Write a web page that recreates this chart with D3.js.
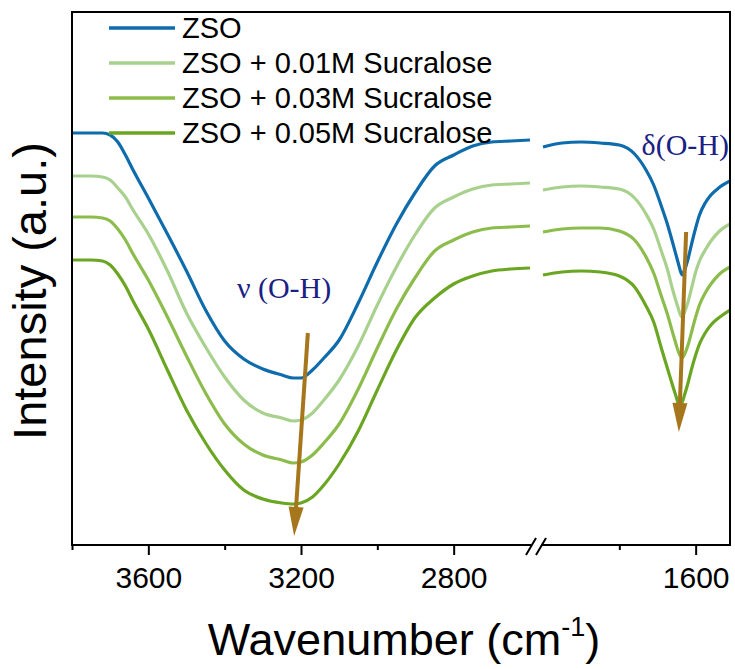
<!DOCTYPE html>
<html>
<head>
<meta charset="utf-8">
<script src="https://cdn.jsdelivr.net/npm/d3@7"></script>
<style>
  body { margin: 0; background: #fff; }
  svg { display: block; }
</style>
</head>
<body>
<div id="chart"></div>
<script>
// wavenumbers (cm-1) on both sides of the axis break
var wnLeft = [3800, 3750, 3720, 3700, 3680, 3660, 3640, 3600, 3550, 3500, 3450, 3400, 3350, 3300, 3250,
              3220, 3200, 3170, 3140, 3100, 3050, 3000, 2950, 2900, 2850, 2800, 2750, 2700, 2650, 2600];
var wnRight = [2000, 1950, 1900, 1850, 1800, 1760, 1730, 1710, 1690, 1675, 1660, 1650, 1645, 1640, 1635,
               1630, 1620, 1610, 1600, 1590, 1575, 1560, 1540, 1510];

// intensity (a.u.)
var zsoLeft = [41.2, 41.2, 41.2, 41.0, 40.3, 39.0, 37.5, 34.7, 31.1, 27.4, 23.5, 20.4, 18.6, 17.6, 17.0,
               16.7, 16.7, 17.5, 18.7, 20.5, 24.2, 28.3, 32.1, 35.3, 37.9, 39.0, 39.9, 40.3, 40.4, 40.5];
var s01Left = [36.9, 36.9, 36.8, 36.5, 35.7, 34.8, 33.5, 31.1, 27.4, 23.2, 19.8, 16.8, 14.5, 13.2, 12.7,
               12.4, 12.5, 13.2, 14.5, 16.5, 19.9, 24.0, 27.8, 31.1, 33.7, 34.8, 35.6, 36.0, 36.1, 36.2];
var s03Left = [32.8, 32.8, 32.7, 32.4, 31.6, 30.5, 29.1, 26.5, 22.8, 18.9, 15.2, 12.1, 10.1, 9.0, 8.5,
               8.2, 8.3, 9.0, 10.2, 12.1, 15.6, 19.7, 23.6, 26.8, 29.4, 30.5, 31.3, 31.7, 31.8, 31.9];
var s05Left = [28.5, 28.5, 28.4, 28.0, 27.1, 25.9, 24.4, 21.6, 17.5, 13.5, 10.2, 7.5, 5.5, 4.6, 4.2,
               4.1, 4.2, 4.8, 6.0, 8.1, 11.4, 15.5, 19.5, 22.8, 24.7, 26.1, 26.9, 27.4, 27.6, 27.7];

var zsoRight = [39.8, 40.2, 40.3, 40.2, 40.0, 39.1, 37.5, 36.0, 33.9, 32.2, 30.2, 28.8, 28.1, 27.4, 27.0,
                27.4, 28.6, 30.2, 31.7, 33.0, 34.2, 35.0, 35.7, 36.4];
var s01Right = [35.5, 35.8, 35.9, 35.8, 35.6, 34.7, 33.1, 31.6, 29.4, 27.7, 25.5, 24.2, 23.6, 23.0, 22.8,
                23.2, 24.3, 25.8, 27.3, 28.4, 29.5, 30.4, 31.3, 32.1];
var s03Right = [31.3, 31.6, 31.7, 31.7, 31.4, 30.5, 28.8, 27.2, 24.9, 23.2, 21.2, 19.9, 19.3, 18.9, 18.7,
                19.0, 20.0, 21.4, 22.8, 24.0, 25.2, 26.1, 27.0, 27.8];
var s05Right = [27.0, 27.3, 27.4, 27.3, 26.9, 25.8, 23.9, 22.3, 19.7, 17.8, 15.9, 14.7, 14.1, 14.2, 14.3,
                14.9, 16.2, 17.7, 19.0, 20.1, 21.2, 22.0, 22.7, 23.5];

var seriesNames = ["ZSO", "ZSO + 0.01M Sucralose", "ZSO + 0.03M Sucralose", "ZSO + 0.05M Sucralose"];
var seriesColors = ["#0f6cac", "#a9d18e", "#8cbd4c", "#6aa622"];

var leftMajor = [3600, 3200, 2800];
var leftMinor = [3800, 3400, 3000];
var rightMajor = [1600];
var rightMinor = [1800];

var width = 735, height = 669;
var plotLeft = 72, plotRight = 730, plotTop = 12, plotBottom = 545;
var sans = "'Liberation Sans', Arial, sans-serif";
var serif = "'Liberation Serif', 'Times New Roman', serif";

var svg = d3.select("#chart").append("svg")
    .attr("width", width)
    .attr("height", height);

var xLeft = d3.scaleLinear().domain([3800, 2600]).range([plotLeft, 530]);
var xRight = d3.scaleLinear().domain([2000, 1510]).range([543, plotRight]);
var y = d3.scaleLinear().domain([0, 53.3]).range([plotBottom, plotTop]);

var series = [
  { name: seriesNames[0], color: seriesColors[0], left: zsoLeft, right: zsoRight },
  { name: seriesNames[1], color: seriesColors[1], left: s01Left, right: s01Right },
  { name: seriesNames[2], color: seriesColors[2], left: s03Left, right: s03Right },
  { name: seriesNames[3], color: seriesColors[3], left: s05Left, right: s05Right }
];

svg.append("clipPath").attr("id", "plotclip")
  .append("rect")
    .attr("x", plotLeft).attr("y", plotTop)
    .attr("width", plotRight - plotLeft).attr("height", plotBottom - plotTop);

function makeLine(xs) {
  return d3.line()
    .x(function(d) { return xs(d[0]); })
    .y(function(d) { return y(d[1]); })
    .curve(d3.curveMonotoneX);
}
var lineLeft = makeLine(xLeft);
var lineRight = makeLine(xRight);

var curves = svg.append("g").attr("clip-path", "url(#plotclip)");
series.forEach(function(s) {
  curves.append("path")
    .datum(d3.zip(wnLeft, s.left))
    .attr("d", lineLeft)
    .attr("fill", "none")
    .attr("stroke", s.color)
    .attr("stroke-width", 3.2);
  curves.append("path")
    .datum(d3.zip(wnRight, s.right))
    .attr("d", lineRight)
    .attr("fill", "none")
    .attr("stroke", s.color)
    .attr("stroke-width", 3.2);
});

// frame: left, top, right
svg.append("path")
  .attr("d", "M" + plotLeft + "," + plotBottom + "V" + plotTop + "H" + plotRight + "V" + plotBottom)
  .attr("fill", "none")
  .attr("stroke", "#000")
  .attr("stroke-width", 2);

// bottom axis, two pieces
function drawAxis(scale, major, minor, x0, x1) {
  var g = svg.append("g").attr("transform", "translate(0," + plotBottom + ")");
  g.call(d3.axisBottom(scale).tickValues(major).tickSize(10).tickSizeOuter(0)
          .tickPadding(12).tickFormat(d3.format("d")));
  g.select(".domain").remove();
  g.selectAll(".tick line").attr("stroke", "#000").attr("stroke-width", 2);
  g.selectAll(".tick text").attr("font-family", sans).attr("font-size", 30).attr("fill", "#000");

  var m = svg.append("g").attr("transform", "translate(0," + plotBottom + ")");
  m.call(d3.axisBottom(scale).tickValues(minor).tickSize(5).tickSizeOuter(0).tickFormat(""));
  m.select(".domain").remove();
  m.selectAll(".tick line").attr("stroke", "#000").attr("stroke-width", 2);

  svg.append("line")
    .attr("x1", x0).attr("x2", x1)
    .attr("y1", plotBottom).attr("y2", plotBottom)
    .attr("stroke", "#000").attr("stroke-width", 2);
}
drawAxis(xLeft, leftMajor, leftMinor, plotLeft - 1, xLeft(2600) + 1);
drawAxis(xRight, rightMajor, rightMinor, xRight(2000) - 2, plotRight + 1);

// break marks
[xLeft(2600) + 1, xRight(2000) - 2].forEach(function(bx) {
  svg.append("line")
    .attr("x1", bx - 5).attr("y1", plotBottom + 10)
    .attr("x2", bx + 5).attr("y2", plotBottom - 7)
    .attr("stroke", "#000").attr("stroke-width", 2);
});

// axis titles
var xt = svg.append("text")
  .attr("x", 404).attr("y", 655)
  .attr("text-anchor", "middle")
  .attr("font-family", sans).attr("font-size", 45).attr("fill", "#000");
xt.append("tspan").text("Wavenumber (cm");
xt.append("tspan").attr("font-size", 27).attr("dy", -19).text("-1");
xt.append("tspan").attr("dy", 19).text(")");

svg.append("text")
  .attr("transform", "translate(46," + 291 + ") rotate(-90)")
  .attr("text-anchor", "middle")
  .attr("font-family", sans).attr("font-size", 47).attr("fill", "#000")
  .text("Intensity (a.u.)");

// arrows marking the peak shifts
var arrowColor = "#a6761d";
var arrows = [
  { xs: xLeft, from: [3182, 21.2], to: [3218, 0.9] },
  { xs: xRight, from: [1625, 31.3], to: [1644, 11.3] }
];
arrows.forEach(function(a) {
  var x1 = a.xs(a.from[0]), y1 = y(a.from[1]);
  var x2 = a.xs(a.to[0]), y2 = y(a.to[1]);
  var dx = x2 - x1, dy = y2 - y1, len = Math.sqrt(dx * dx + dy * dy);
  var ux = dx / len, uy = dy / len;
  var headLen = 29, headW = 7.5;
  var bx = x2 - ux * headLen, by = y2 - uy * headLen;
  svg.append("line")
    .attr("x1", x1).attr("y1", y1).attr("x2", bx + ux * 2).attr("y2", by + uy * 2)
    .attr("stroke", arrowColor).attr("stroke-width", 4);
  svg.append("path")
    .attr("d", "M" + x2 + "," + y2 +
               "L" + (bx - uy * headW) + "," + (by + ux * headW) +
               "L" + (bx + uy * headW) + "," + (by - ux * headW) + "Z")
    .attr("fill", arrowColor);
});

// peak labels
var labelColor = "#1a2183";
svg.append("text")
  .attr("x", xLeft(3368)).attr("y", y(24.7))
  .attr("font-family", serif).attr("font-size", 30).attr("fill", labelColor)
  .text("\u03bd (O-H)");
svg.append("text")
  .attr("x", plotRight - 1).attr("y", y(39.0))
  .attr("text-anchor", "end")
  .attr("font-family", serif).attr("font-size", 30).attr("fill", labelColor)
  .text("\u03b4(O-H)");

// legend
var legend = svg.append("g");
series.forEach(function(s, i) {
  var cy = 28 + i * 35;
  legend.append("line")
    .attr("x1", 109).attr("x2", 175)
    .attr("y1", cy).attr("y2", cy)
    .attr("stroke", s.color).attr("stroke-width", 3.5);
  legend.append("text")
    .attr("x", 182).attr("y", cy + 10.4)
    .attr("font-family", sans).attr("font-size", 29).attr("fill", "#000")
    .text(s.name);
});
</script>
</body>
</html>
